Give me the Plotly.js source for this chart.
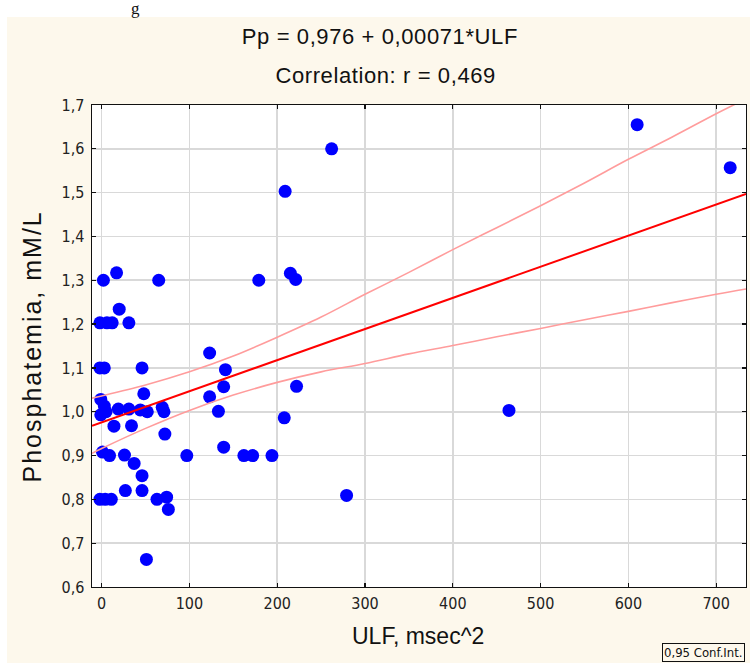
<!DOCTYPE html>
<html>
<head>
<meta charset="utf-8">
<script src="https://cdn.plot.ly/plotly-3.0.1.min.js"></script>
<style>
  html, body { margin: 0; padding: 0; background: #ffffff; width: 750px; height: 663px; overflow: hidden; }
  #chart { position: absolute; left: 7px; top: 17px; width: 743px; height: 646px; }
  #cut { position: absolute; left: 131px; top: 0px; font-family: "Liberation Serif", "DejaVu Serif", serif; font-size: 17px; line-height: 17px; color: #111; z-index: 5; }
  #chart .annotation[data-index="3"] text { letter-spacing: 2px; }
  #chart .annotation[data-index="0"] text, #chart .annotation[data-index="1"] text { letter-spacing: 0.6px; }
</style>
</head>
<body>
<div id="cut">g</div>
<div id="chart"></div>
<script>
// Scatter data: ULF (msec^2) vs Phosphatemia (mM/L)
const ulf = [2, 17, 65, 179, 215, 221, 209, 262, 610, 716,
             20, -2, 6, 12, 31, -2, 3, 46, 123, 141,
             48, 139, 123, 222, 133, 208, -1, 3, -1, 5,
             19, 31, 44, 52, 69, 71, 14, 34, 72, 1,
             9, 26, 37, 97, 139, 162, 172, 194, 46, 46,
             27, -2, 4, 11, 63, 74, 76, 51, 464, 279];
const phos = [1.300, 1.317, 1.300, 1.300, 1.316, 1.302, 1.503, 1.600, 1.655, 1.557,
              1.234, 1.203, 1.203, 1.203, 1.203, 1.100, 1.100, 1.100, 1.134, 1.096,
              1.041, 1.057, 1.034, 1.058, 1.001, 0.986, 1.028, 1.013, 0.993, 1.000,
              1.006, 1.006, 1.004, 1.000, 1.010, 1.000, 0.967, 0.968, 0.949, 0.908,
              0.900, 0.901, 0.882, 0.900, 0.919, 0.900, 0.900, 0.900, 0.854, 0.820,
              0.820, 0.800, 0.800, 0.800, 0.800, 0.805, 0.777, 0.663, 1.003, 0.809];

// Regression line Pp = 0,976 + 0,00071*ULF (end points)
const fitX = [-11, 734];
const fitY = [0.968, 1.497];

// 0,95 confidence band
const bandX = [-11, 0, 50, 100, 150, 200, 250, 300, 350, 400, 450, 500, 550, 600, 650, 700, 734];
const bandUpper = [1.031, 1.036, 1.061, 1.091, 1.127, 1.170, 1.216, 1.268, 1.318, 1.370, 1.420, 1.470, 1.522, 1.576, 1.627, 1.680, 1.714];
const bandLower = [0.905, 0.916, 0.962, 1.003, 1.038, 1.067, 1.091, 1.110, 1.132, 1.151, 1.171, 1.190, 1.210, 1.229, 1.249, 1.268, 1.280];

// Tick labels
const xTickVals = [0, 100, 200, 300, 400, 500, 600, 700];
const xTickText = ["0", "100", "200", "300", "400", "500", "600", "700"];
const yTickVals = [0.6, 0.7, 0.8, 0.9, 1.0, 1.1, 1.2, 1.3, 1.4, 1.5, 1.6, 1.7];
const yTickText = ["0,6", "0,7", "0,8", "0,9", "1,0", "1,1", "1,2", "1,3", "1,4", "1,5", "1,6", "1,7"];

// Text
const titleLine1 = "Pp = 0,976 + 0,00071*ULF";
const titleLine2 = "Correlation: r = 0,469";
const xTitle = "ULF, msec^2";
const yTitle = "Phosphatemia, mM/L";
const legendText = "0,95 Conf.Int.";

const cream = "#fdf8ec";
const narrow = '"Liberation Sans Narrow", "DejaVu Sans Condensed", "Arial Narrow", "Liberation Sans", sans-serif';
const sans = '"Liberation Sans", Arial, sans-serif';

const traces = [
  { x: ulf, y: phos, type: "scatter", mode: "markers",
    marker: { color: "#0000ff", size: 13, line: { width: 0 } }, hoverinfo: "skip" },
  { x: bandX, y: bandUpper, type: "scatter", mode: "lines",
    line: { color: "#ff9c9c", width: 1.6, shape: "spline", smoothing: 1 }, hoverinfo: "skip" },
  { x: bandX, y: bandLower, type: "scatter", mode: "lines",
    line: { color: "#ff9c9c", width: 1.6, shape: "spline", smoothing: 1 }, hoverinfo: "skip" },
  { x: fitX, y: fitY, type: "scatter", mode: "lines",
    line: { color: "#ff0000", width: 2 }, hoverinfo: "skip" }
];

const axisCommon = {
  showline: true, mirror: "ticks", linecolor: "#111111", linewidth: 1.3,
  ticks: "inside", ticklen: 4, tickwidth: 1.2, tickcolor: "#111111",
  showgrid: true, gridcolor: "#d9d9d9", gridwidth: 1.6,
  zeroline: false, tickmode: "array",
  tickfont: { family: narrow, size: 16, color: "#222222" }
};

const layout = {
  width: 743, height: 646,
  margin: { l: 85, r: 4, t: 88, b: 76 },
  paper_bgcolor: cream, plot_bgcolor: "#ffffff",
  showlegend: false,
  xaxis: Object.assign({}, axisCommon, {
    range: [-11, 734], tickvals: xTickVals, ticktext: xTickText, ticklabelstandoff: 1
  }),
  yaxis: Object.assign({}, axisCommon, {
    range: [0.6, 1.7], tickvals: yTickVals, ticktext: yTickText, ticklabelstandoff: 3
  }),
  annotations: [
    { text: titleLine1, xref: "paper", yref: "paper", x: 0.4404, y: 1.1411,
      xanchor: "center", yanchor: "middle", showarrow: false,
      font: { family: sans, size: 22, color: "#111111" } },
    { text: titleLine2, xref: "paper", yref: "paper", x: 0.4495, y: 1.0602,
      xanchor: "center", yanchor: "middle", showarrow: false,
      font: { family: sans, size: 22, color: "#111111" } },
    { text: xTitle, xref: "paper", yref: "paper", x: 0.4985, y: -0.1017,
      xanchor: "center", yanchor: "middle", showarrow: false,
      font: { family: sans, size: 23, color: "#111111" } },
    { text: yTitle, xref: "paper", yref: "paper", x: -0.091, y: 0.5,
      xanchor: "center", yanchor: "middle", showarrow: false, textangle: -90,
      font: { family: sans, size: 25, color: "#111111" } },
    { text: legendText, xref: "paper", yref: "paper", x: 0.8716, y: -0.1162,
      xanchor: "left", yanchor: "top", showarrow: false, align: "left",
      bgcolor: cream, bordercolor: "#111111", borderwidth: 1, borderpad: 1,
      font: { family: narrow, size: 13, color: "#111111" } }
  ]
};

Plotly.newPlot("chart", traces, layout, { displayModeBar: false, staticPlot: true });
</script>
</body>
</html>
